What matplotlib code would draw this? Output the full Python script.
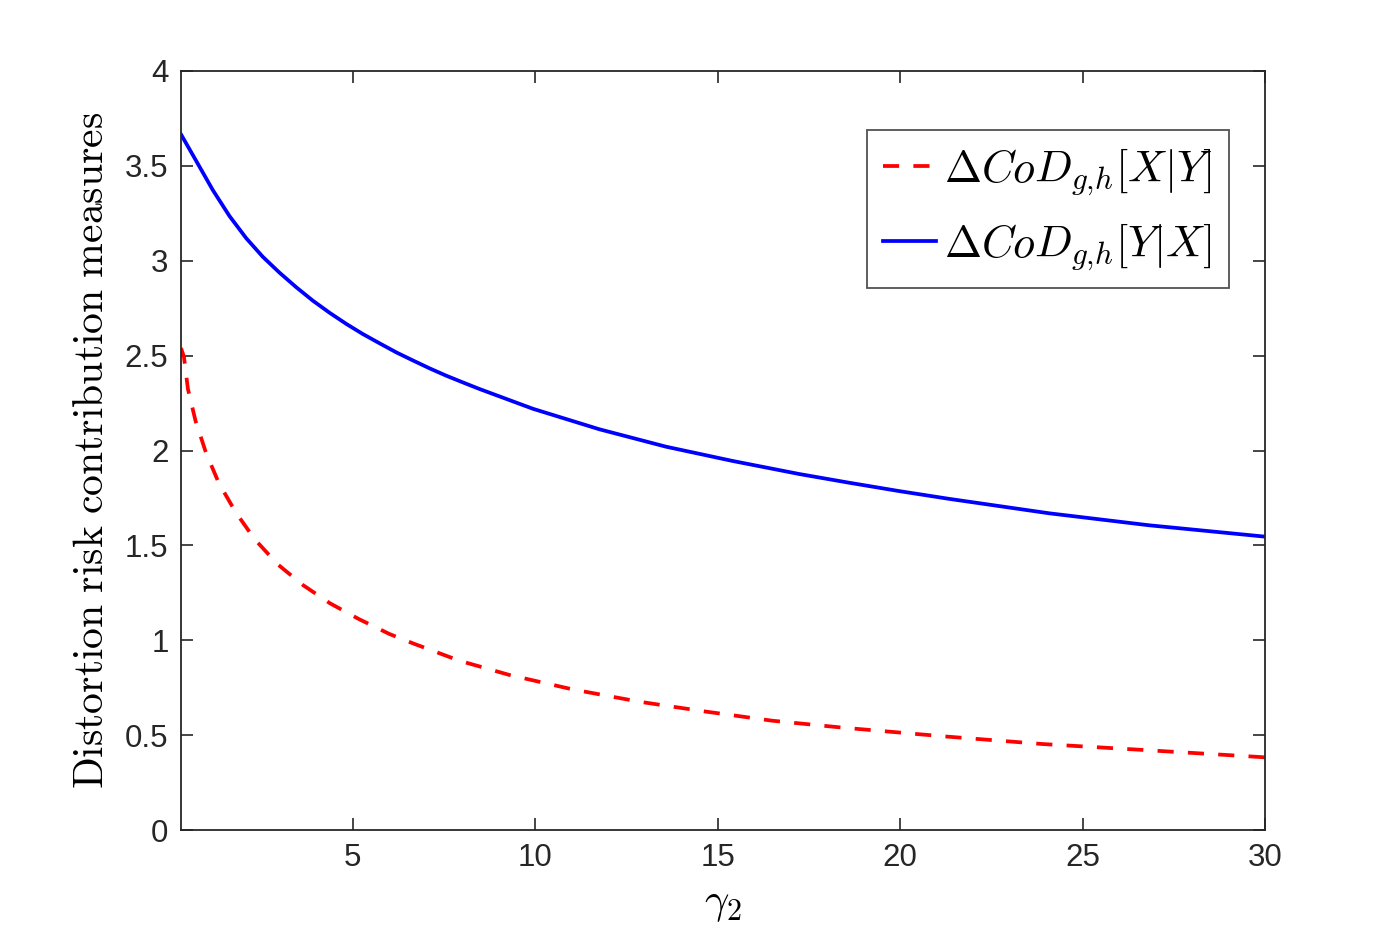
import matplotlib
matplotlib.use("Agg")
import matplotlib.pyplot as plt

# ---- data ----
blue_x = [0.3, 0.72, 1.17, 1.63, 2.09, 2.54, 3.00, 3.46, 3.91, 4.37, 4.83, 5.28,
          5.74, 6.20, 6.65, 7.11, 7.57, 8.02, 8.48, 9.94, 11.76, 13.59, 15.41,
          17.24, 18.61, 19.98, 21.35, 24.09, 26.82, 30.0]
blue_y = [3.666, 3.525, 3.373, 3.235, 3.118, 3.021, 2.937, 2.860, 2.790, 2.726, 2.667, 2.614,
          2.565, 2.517, 2.475, 2.433, 2.394, 2.359, 2.324, 2.220, 2.112, 2.020, 1.945,
          1.876, 1.830, 1.786, 1.745, 1.669, 1.606, 1.546]

red_x = [0.3, 0.38, 0.49, 0.70, 0.99, 1.34, 1.80, 2.32, 2.95, 3.64, 4.38, 5.17,
         6.01, 6.65, 7.93, 9.30, 11.03, 12.86, 14.68, 16.50, 18.4, 21.17, 23.91,
         26.65, 30.0]
red_y = [2.54, 2.494, 2.324, 2.155, 1.985, 1.827, 1.674, 1.532, 1.400, 1.291, 1.195, 1.112,
         1.033, 0.984, 0.892, 0.817, 0.741, 0.676, 0.624, 0.576, 0.540, 0.494, 0.453,
         0.422, 0.383]

x_ticks = [5, 10, 15, 20, 25, 30]
y_ticks = [0, 0.5, 1, 1.5, 2, 2.5, 3, 3.5, 4]
y_tick_labels = ["0", "0.5", "1", "1.5", "2", "2.5", "3", "3.5", "4"]

label_red = r"$\Delta CoD_{g{,}h}[X|Y]$"
label_blue = r"$\Delta CoD_{g{,}h}[Y|X]$"
xlabel = r"$\gamma_2$"
ylabel = r"$\mathrm{Distortion\ risk\ contribution\ measures}$"

plt.rcParams["mathtext.fontset"] = "cm"
plt.rcParams["font.family"] = ["Liberation Sans", "DejaVu Sans"]

fig = plt.figure(figsize=(13.98, 9.34), dpi=100)
ax = fig.add_axes([181 / 1398, 1 - 830 / 934, (1265 - 181) / 1398, (830 - 71) / 934])

lw = 2.7
ax.plot(red_x, red_y, color="#ff0000", lw=lw, dashes=(4.3, 3.8), label=label_red)
ax.plot(blue_x, blue_y, color="#0000ff", lw=lw, label=label_blue)

ax.set_xlim(0.3, 30)
ax.set_ylim(0, 4)
ax.set_xticks(x_ticks)
ax.set_xticklabels([str(t) for t in x_ticks])
ax.set_yticks(y_ticks)
ax.set_yticklabels(y_tick_labels)

gray = "#262626"
for s in ax.spines.values():
    s.set_color(gray)
    s.set_linewidth(1.3)
ax.tick_params(direction="in", length=8.5, width=1.2, colors=gray,
               labelsize=22.5, top=True, right=True, pad=9)
for lab in ax.get_xticklabels() + ax.get_yticklabels():
    lab.set_color(gray)

ax.set_xlabel(xlabel, fontsize=31, labelpad=8)
ax.set_ylabel(ylabel, fontsize=30, labelpad=9)

leg = ax.legend(loc="upper right", bbox_to_anchor=((1229 - 181) / 1084, (830 - 130) / 759),
                borderaxespad=0, fontsize=32, frameon=True, fancybox=False,
                handlelength=1.2, handletextpad=0.18, labelspacing=0.55,
                borderpad=0.36)
leg.get_frame().set_edgecolor(gray)
leg.get_frame().set_linewidth(1.3)

fig.savefig("out.png", dpi=100)
